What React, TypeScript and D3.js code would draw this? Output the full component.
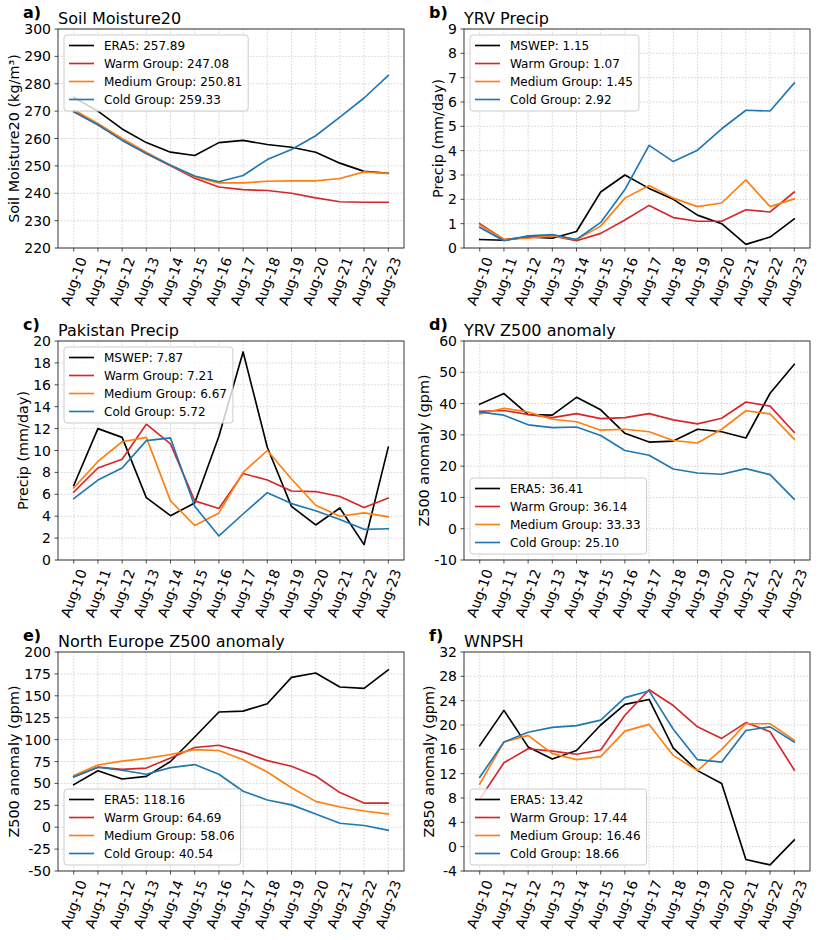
import React, { useEffect, useRef } from "react";
import * as d3 from "d3";

const dates = ["Aug-10", "Aug-11", "Aug-12", "Aug-13", "Aug-14", "Aug-15", "Aug-16", "Aug-17", "Aug-18", "Aug-19", "Aug-20", "Aug-21", "Aug-22", "Aug-23"];

// a) Soil Moisture20
const smEra5 = [275, 270, 263.5, 258.5, 255, 253.8, 258.5, 259.3, 257.8, 256.8, 255, 251, 248, 247.3];
const smWarm = [270, 265, 259.5, 254.5, 250, 245.5, 242.3, 241.3, 241, 240, 238.3, 236.9, 236.7, 236.7];
const smMedium = [270.5, 265.5, 260, 255, 250.2, 246, 243.8, 243.8, 244.4, 244.5, 244.5, 245.4, 247.8, 247.3];
const smCold = [269.7, 265, 259.3, 254.5, 250.2, 246.3, 244.2, 246.5, 252.3, 256, 261, 267.8, 274.8, 283];
const smLegend = ["ERA5: 257.89", "Warm Group: 247.08", "Medium Group: 250.81", "Cold Group: 259.33"];

// b) YRV Precip
const yrvPrMswep = [0.35, 0.32, 0.45, 0.4, 0.68, 2.3, 3.0, 2.45, 2.0, 1.35, 1.0, 0.15, 0.45, 1.2];
const yrvPrWarm = [1.0, 0.35, 0.45, 0.5, 0.3, 0.6, 1.15, 1.75, 1.25, 1.1, 1.1, 1.57, 1.48, 2.3];
const yrvPrMedium = [0.95, 0.35, 0.4, 0.5, 0.35, 0.9, 2.05, 2.57, 2.05, 1.7, 1.85, 2.8, 1.7, 2.02];
const yrvPrCold = [0.85, 0.3, 0.5, 0.55, 0.35, 1.05, 2.4, 4.22, 3.55, 4.02, 4.9, 5.66, 5.63, 6.78];
const yrvPrLegend = ["MSWEP: 1.15", "Warm Group: 1.07", "Medium Group: 1.45", "Cold Group: 2.92"];

// c) Pakistan Precip
const pakPrMswep = [6.8, 12.0, 11.2, 5.7, 4.05, 5.2, 11.3, 19.0, 10.3, 4.9, 3.2, 4.75, 1.4, 10.3];
const pakPrWarm = [6.2, 8.4, 9.2, 12.4, 10.6, 5.4, 4.7, 7.9, 7.3, 6.3, 6.25, 5.8, 4.8, 5.65];
const pakPrMedium = [6.6, 9.0, 10.8, 11.2, 5.4, 3.15, 4.3, 8.0, 10.0, 7.4, 5.0, 4.0, 4.3, 3.95];
const pakPrCold = [5.6, 7.3, 8.4, 10.9, 11.15, 4.9, 2.2, 4.2, 6.15, 5.15, 4.5, 3.7, 2.8, 2.85];
const pakPrLegend = ["MSWEP: 7.87", "Warm Group: 7.21", "Medium Group: 6.67", "Cold Group: 5.72"];

// d) YRV Z500 anomaly
const yrvZEra5 = [39.8, 43.2, 36.5, 36.3, 42, 38, 30.5, 27.7, 28, 31.8, 31, 29, 43.3, 52.5];
const yrvZWarm = [37.5, 37.8, 36.5, 35.5, 36.8, 35.2, 35.5, 36.8, 34.8, 33.5, 35.3, 40.5, 39.2, 30.8];
const yrvZMedium = [36.7, 38.5, 37.3, 35, 34.2, 31.5, 31.8, 31, 28.2, 27.4, 31.8, 37.7, 36.7, 28.6];
const yrvZCold = [37.3, 36.3, 33.2, 32.3, 32.5, 29.8, 25, 23.5, 19.1, 17.8, 17.4, 19.2, 17.3, 9.4];
const yrvZLegend = ["ERA5: 36.41", "Warm Group: 36.14", "Medium Group: 33.33", "Cold Group: 25.10"];

// e) North Europe Z500 anomaly
const neZEra5 = [48.5, 64.5, 55, 58, 75, 103, 131.5, 132.5, 141, 171, 176, 160, 158.5, 179.5];
const neZWarm = [57.5, 68.5, 66, 67.5, 79, 91, 93.5, 86, 76, 69.5, 58.5, 39.5, 27.5, 27.5];
const neZMedium = [59, 71, 75.5, 78.5, 83, 88.5, 87.5, 77, 63, 45, 29.5, 23, 18.5, 15];
const neZCold = [57.5, 68.5, 65, 60.5, 68, 71.5, 60.5, 41, 31, 25.5, 15, 4.5, 2, -3.5];
const neZLegend = ["ERA5: 118.16", "Warm Group: 64.69", "Medium Group: 58.06", "Cold Group: 40.54"];

// f) WNPSH
const wnpEra5 = [16.6, 22.4, 16.4, 14.4, 15.8, 20, 23.4, 24.2, 16.2, 12.5, 10.4, -2.1, -3.0, 1.1];
const wnpWarm = [7.8, 13.8, 16.1, 15.7, 15.2, 15.9, 21.6, 25.8, 23.2, 19.7, 17.8, 20.4, 18.9, 12.6];
const wnpMedium = [10.3, 17.2, 18.3, 15.3, 14.3, 14.8, 19, 20.1, 15, 12.5, 16, 20.2, 20.2, 17.5];
const wnpCold = [11.4, 17.2, 18.8, 19.6, 19.9, 20.8, 24.5, 25.6, 19.3, 14.3, 13.9, 19.1, 19.7, 17.2];
const wnpLegend = ["ERA5: 13.42", "Warm Group: 17.44", "Medium Group: 16.46", "Cold Group: 18.66"];

const smTicks = [220, 230, 240, 250, 260, 270, 280, 290, 300];
const yrvPrTicks = [0, 1, 2, 3, 4, 5, 6, 7, 8, 9];
const pakPrTicks = [0, 2, 4, 6, 8, 10, 12, 14, 16, 18, 20];
const yrvZTicks = [-10, 0, 10, 20, 30, 40, 50, 60];
const neZTicks = [-50, -25, 0, 25, 50, 75, 100, 125, 150, 175, 200];
const wnpTicks = [-4, 0, 4, 8, 12, 16, 20, 24, 28, 32];

const colors = ["#000000", "#d62728", "#ff7f0e", "#1f77b4"];

type Panel = {
  letter: string;
  title: string;
  ylabel: string;
  ticks: number[];
  series: number[][];
  legend: string[];
  upper: boolean;
  col: number;
  row: number;
};

const panels: Panel[] = [
  { letter: "a)", title: "Soil Moisture20", ylabel: "Soil Moisture20 (kg/m³)", ticks: smTicks, series: [smEra5, smWarm, smMedium, smCold], legend: smLegend, upper: true, col: 0, row: 0 },
  { letter: "b)", title: "YRV Precip", ylabel: "Precip (mm/day)", ticks: yrvPrTicks, series: [yrvPrMswep, yrvPrWarm, yrvPrMedium, yrvPrCold], legend: yrvPrLegend, upper: true, col: 1, row: 0 },
  { letter: "c)", title: "Pakistan Precip", ylabel: "Precip (mm/day)", ticks: pakPrTicks, series: [pakPrMswep, pakPrWarm, pakPrMedium, pakPrCold], legend: pakPrLegend, upper: true, col: 0, row: 1 },
  { letter: "d)", title: "YRV Z500 anomaly", ylabel: "Z500 anomaly (gpm)", ticks: yrvZTicks, series: [yrvZEra5, yrvZWarm, yrvZMedium, yrvZCold], legend: yrvZLegend, upper: false, col: 1, row: 1 },
  { letter: "e)", title: "North Europe Z500 anomaly", ylabel: "Z500 anomaly (gpm)", ticks: neZTicks, series: [neZEra5, neZWarm, neZMedium, neZCold], legend: neZLegend, upper: false, col: 0, row: 2 },
  { letter: "f)", title: "WNPSH", ylabel: "Z850 anomaly (gpm)", ticks: wnpTicks, series: [wnpEra5, wnpWarm, wnpMedium, wnpCold], legend: wnpLegend, upper: false, col: 1, row: 2 },
];

const colLefts = [58, 464];
const rowTops = [29, 341, 652];
const W = 346;
const H = 219;
const FONT = "DejaVu Sans";

function drawPanel(svg: any, p: Panel) {
  const left = colLefts[p.col];
  const top = rowTops[p.row];
  const g = svg.append("g");
  const x = d3.scaleLinear().domain([-0.65, dates.length - 1 + 0.65]).range([left, left + W]);
  const y = d3.scaleLinear().domain([p.ticks[0], p.ticks[p.ticks.length - 1]]).range([top + H, top]);

  g.append("rect").attr("x", left).attr("y", top).attr("width", W).attr("height", H).attr("fill", "#fff");

  // grid
  const grid = g.append("g").attr("stroke", "#cccccc").attr("stroke-width", 0.8).attr("stroke-dasharray", "1.6,1.6");
  p.ticks.forEach((t) => {
    grid.append("line").attr("x1", left).attr("x2", left + W).attr("y1", y(t)).attr("y2", y(t));
  });
  dates.forEach((_, i) => {
    grid.append("line").attr("x1", x(i)).attr("x2", x(i)).attr("y1", top).attr("y2", top + H);
  });

  // lines
  const line = d3.line<number>().x((_, i) => x(i)).y((v) => y(v));
  p.series.forEach((s, k) => {
    g.append("path").attr("d", line(s)).attr("fill", "none").attr("stroke", colors[k]).attr("stroke-width", 1.65).attr("stroke-linejoin", "round").attr("stroke-linecap", "square");
  });

  // legend
  const lg = g.append("g");
  const boxH = 76;
  const boxLeft = left + 6;
  const boxTop = p.upper ? top + 6 : top + H - 6 - boxH;
  const box = lg.append("rect").attr("x", boxLeft).attr("y", boxTop).attr("height", boxH).attr("rx", 3)
    .attr("fill", "#ffffff").attr("fill-opacity", 0.8).attr("stroke", "#cccccc").attr("stroke-width", 1);
  let maxW = 0;
  p.legend.forEach((lab, k) => {
    const cy = boxTop + 10.5 + 18 * k;
    lg.append("line").attr("x1", boxLeft + 5).attr("x2", boxLeft + 30).attr("y1", cy).attr("y2", cy).attr("stroke", colors[k]).attr("stroke-width", 1.65);
    const t = lg.append("text").attr("x", boxLeft + 40).attr("y", cy).attr("dominant-baseline", "central")
      .attr("font-family", FONT).attr("font-size", 12).attr("fill", "#000").text(lab);
    const w = (t.node() as SVGTextElement).getComputedTextLength();
    if (w > maxW) maxW = w;
  });
  box.attr("width", 40 + maxW + 6);

  // spines
  g.append("rect").attr("x", left).attr("y", top).attr("width", W).attr("height", H).attr("fill", "none").attr("stroke", "#222").attr("stroke-width", 0.9);

  // y ticks
  let maxTickW = 0;
  p.ticks.forEach((t) => {
    g.append("line").attr("x1", left - 3.5).attr("x2", left).attr("y1", y(t)).attr("y2", y(t)).attr("stroke", "#222").attr("stroke-width", 0.8);
    const tx = g.append("text").attr("x", left - 7).attr("y", y(t)).attr("text-anchor", "end").attr("dominant-baseline", "central")
      .attr("font-family", FONT).attr("font-size", 14).attr("fill", "#000").text(String(t));
    const w = (tx.node() as SVGTextElement).getComputedTextLength();
    if (w > maxTickW) maxTickW = w;
  });

  // x ticks
  dates.forEach((d, i) => {
    const xi = x(i);
    g.append("line").attr("x1", xi).attr("x2", xi).attr("y1", top + H).attr("y2", top + H + 3.5).attr("stroke", "#222").attr("stroke-width", 0.8);
    const t = g.append("text").attr("text-anchor", "end").attr("dominant-baseline", "central")
      .attr("font-family", FONT).attr("font-size", 14).attr("fill", "#000").text(d);
    const L = (t.node() as SVGTextElement).getComputedTextLength();
    const px = xi + 0.171 * L;
    const py = top + H + 7 + 0.171 * 16;
    t.attr("transform", `translate(${px},${py}) rotate(-70)`);
  });

  // y label
  const ylx = left - 7 - maxTickW - 10;
  g.append("text").attr("transform", `translate(${ylx},${top + H / 2}) rotate(-90)`).attr("text-anchor", "middle").attr("dominant-baseline", "central")
    .attr("font-family", FONT).attr("font-size", 14.4).attr("fill", "#000").text(p.ylabel);

  // title and letter
  g.append("text").attr("x", left).attr("y", top - 5).attr("font-family", FONT).attr("font-size", 16).attr("fill", "#000").text(p.title);
  g.append("text").attr("x", left - 35).attr("y", top - 11).attr("font-family", FONT).attr("font-size", 16).attr("font-weight", "bold").attr("fill", "#000").text(p.letter);
}

export default function App() {
  const ref = useRef<SVGSVGElement>(null);
  useEffect(() => {
    const svg = d3.select(ref.current);
    svg.selectAll("*").remove();
    svg.append("rect").attr("width", 822).attr("height", 940).attr("fill", "#fff");
    panels.forEach((p) => drawPanel(svg, p));
  }, []);
  return <svg ref={ref} width={822} height={940} style={{ position: "absolute", left: 0, top: 0 }} />;
}
